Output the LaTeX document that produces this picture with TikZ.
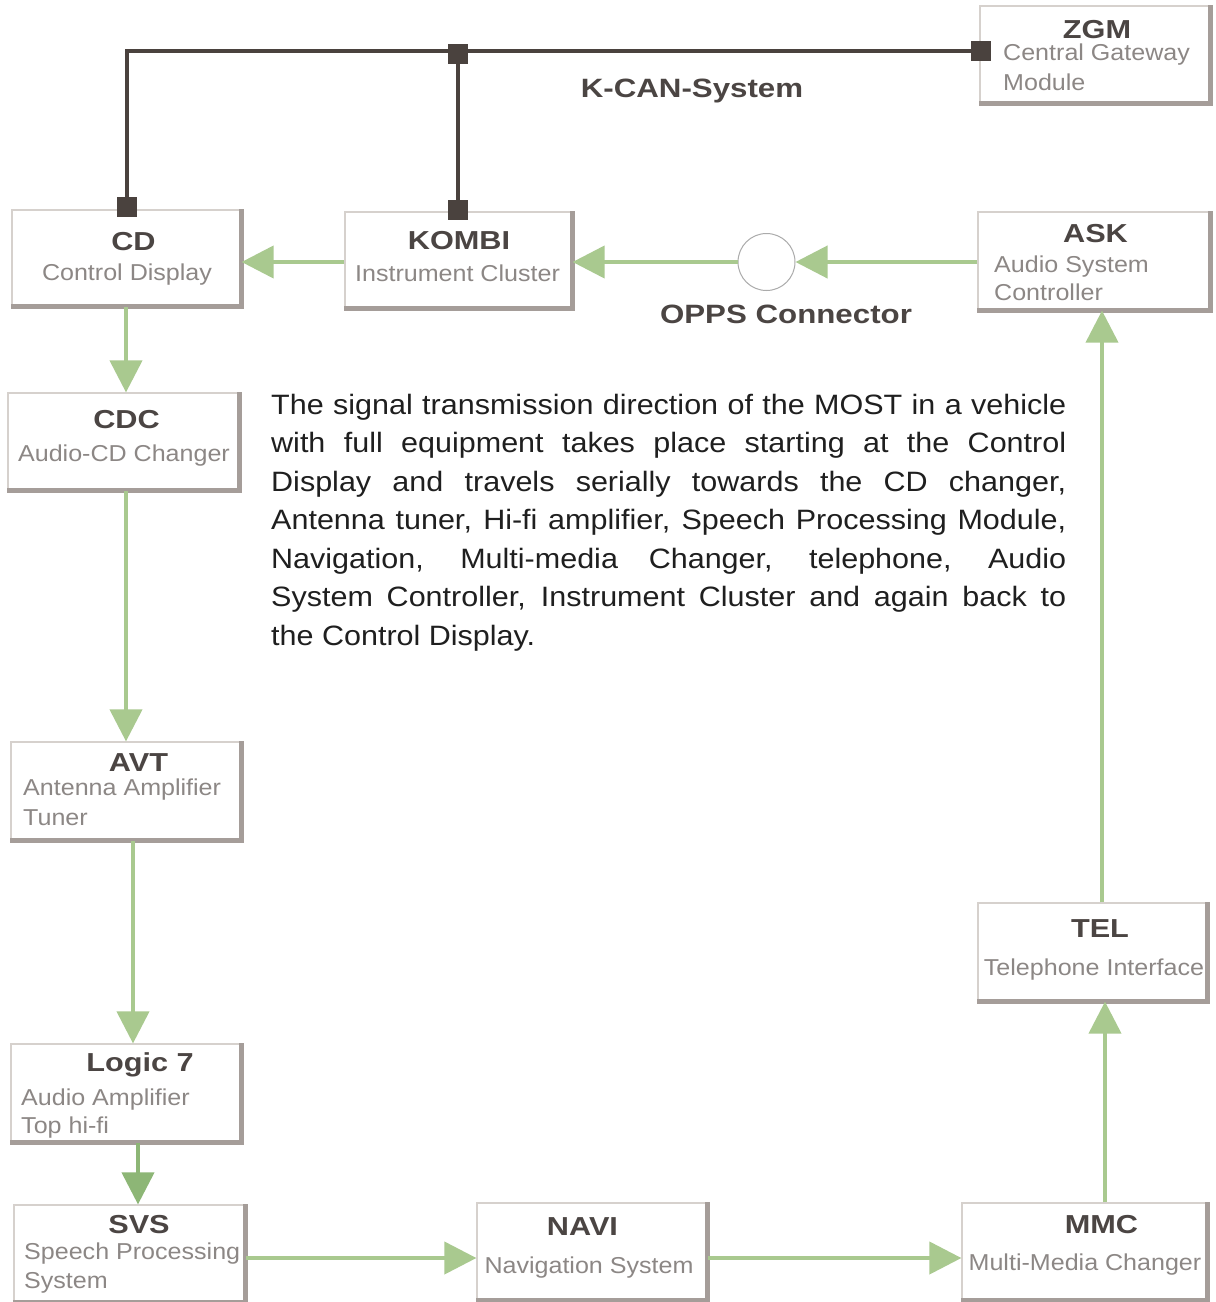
\documentclass[tikz,border=0pt]{standalone}
\usepackage{fontspec}
\setmainfont{Liberation Sans}
\newfontfamily\titlefont{Liberation Sans}[FakeStretch=1.18]
\newfontfamily\subfont{Liberation Sans}[FakeStretch=1.09]
\newfontfamily\parafont{Liberation Sans}[FakeStretch=1.09]
\usetikzlibrary{arrows.meta}

\definecolor{mostc}{HTML}{A9C98F}
\definecolor{mostdark}{HTML}{8DB676}
\definecolor{kcanc}{HTML}{4A423E}
\definecolor{boxline}{HTML}{D6D1CD}
\definecolor{boxshadow}{HTML}{A59D99}
\definecolor{titlegray}{HTML}{4B4543}
\definecolor{subgray}{HTML}{8C8785}
\definecolor{ringgray}{HTML}{ABABAB}

\begin{document}
\begin{tikzpicture}[x=1pt,y=-1pt,
  ecu/.style={draw=boxline, line width=1.2pt, fill=white, rectangle, inner sep=0pt},
  shadowline/.style={draw=boxshadow, line width=4.5pt},
  ttl/.style={font=\titlefont\bfseries\fontsize{26}{30}\selectfont, text=titlegray, inner sep=0pt},
  sub/.style={font=\subfont\fontsize{23}{30}\selectfont, text=subgray, inner sep=0pt},
  biglabel/.style={font=\titlefont\bfseries\fontsize{26.5}{30}\selectfont, text=titlegray, inner sep=0pt},
  para/.style={text width=795pt, align=justify, inner sep=0pt,
    font=\parafont\fontsize{28}{38.5}\selectfont, text=black!88},
  mostarrow/.style={draw=mostc, line width=4pt, -{Triangle[length=32pt,width=32pt]}},
  mostarrowdark/.style={draw=mostdark, line width=4pt, -{Triangle[length=32pt,width=32pt]}},
  kcanline/.style={draw=kcanc, line width=4pt},
  kcansq/.style={fill=kcanc, rectangle, inner sep=0pt, minimum size=20pt},
  ring/.style={draw=ringgray, line width=1pt, circle, fill=white, inner sep=0pt, minimum size=57pt}
]
\useasboundingbox (0,0) rectangle (1216,1302);
\fill[white] (0,0) rectangle (1216,1302);

% ---------- boxes ----------
\node[ecu, minimum width=230pt, minimum height=97pt] (zgm) at (1095,54.5) {};
\node[ecu, minimum width=229pt, minimum height=96pt] (cd) at (126.5,258) {};
\node[ecu, minimum width=227pt, minimum height=96pt] (kombi) at (458.5,260) {};
\node[ecu, minimum width=232pt, minimum height=98pt] (ask) at (1094,261) {};
\node[ecu, minimum width=231pt, minimum height=97pt] (cdc) at (123.5,441.5) {};
\node[ecu, minimum width=230pt, minimum height=98pt] (avt) at (126,791) {};
\node[ecu, minimum width=230pt, minimum height=98pt] (logic) at (126,1093) {};
\node[ecu, minimum width=231pt, minimum height=97pt] (svs) at (129.5,1253.5) {};
\node[ecu, minimum width=230pt, minimum height=97pt] (navi) at (592,1251.5) {};
\node[ecu, minimum width=245pt, minimum height=97pt] (mmc) at (1084.5,1251.5) {};
\node[ecu, minimum width=229pt, minimum height=98pt] (tel) at (1092.5,952) {};

\foreach \b in {zgm,cd,kombi,ask,cdc,avt,logic,svs,navi,mmc,tel}{
  \draw[shadowline] (\b.north east) -- (\b.south east) -- (\b.south west);
}

% ---------- K-CAN ----------
\node[kcansq] (sqcd) at (126.5,207) {};
\node[kcansq] (sqkombi) at (458,210) {};
\node[kcansq] (sqj) at (458,54) {};
\node[kcansq] (sqzgm) at (981,51) {};
\draw[kcanline] (sqcd) |- (sqzgm);
\draw[kcanline] (sqj) -- (sqkombi);
\node[biglabel, anchor=base] (kcanlbl) at (692,97) {K-CAN-System};

% ---------- OPPS ----------
\node[ring] (opps) at (766.5,262) {};
\node[biglabel, anchor=base] (oppslbl) at (786,323) {OPPS Connector};

% ---------- MOST ring arrows ----------
\coordinate (rowA) at (0,262);
\coordinate (colA) at (126,0);
\coordinate (colB) at (133,0);
\coordinate (colC) at (138,0);
\coordinate (rowB) at (0,1258);
\coordinate (colD) at (1105,0);
\coordinate (colE) at (1102,0);

\draw[mostarrow] (kombi.west |- rowA) -- (cd.east |- rowA);
\draw[mostarrow] (opps.west) -- (kombi.east |- opps.west);
\draw[mostarrow] (ask.west |- opps.east) -- (opps.east);
\draw[mostarrow] (cd.south -| colA) -- (cdc.north -| colA);
\draw[mostarrow] (cdc.south -| colA) -- (avt.north -| colA);
\draw[mostarrow] (avt.south -| colB) -- (logic.north -| colB);
\draw[mostarrowdark] (logic.south -| colC) -- (svs.north -| colC);
\draw[mostarrow] (svs.east |- rowB) -- (navi.west |- rowB);
\draw[mostarrow] (navi.east |- rowB) -- (mmc.west |- rowB);
\draw[mostarrow] (mmc.north -| colD) -- (tel.south -| colD);
\draw[mostarrow] (tel.north -| colE) -- (ask.south -| colE);

% ---------- box texts ----------
\node[ttl, anchor=base] (zgmT) at (1097,38) {ZGM};
\node[sub, anchor=base west] (zgmS1) at (1003,60) {Central Gateway};
\node[sub, anchor=base west] (zgmS2) at (1003,90) {Module};

\node[ttl, anchor=base] (cdT) at (133.5,250) {CD};
\node[sub, anchor=base] (cdS) at (127,280) {Control Display};

\node[ttl, anchor=base] (kombiT) at (459,249) {KOMBI};
\node[sub, anchor=base] (kombiS) at (457.5,281) {Instrument Cluster};

\node[ttl, anchor=base] (askT) at (1095.5,242) {ASK};
\node[sub, anchor=base west] (askS1) at (994,272) {Audio System};
\node[sub, anchor=base west] (askS2) at (994,300) {Controller};

\node[ttl, anchor=base] (cdcT) at (126.5,428) {CDC};
\node[sub, anchor=base] (cdcS) at (124,461) {Audio-CD Changer};

\node[ttl, anchor=base] (avtT) at (138.5,771) {AVT};
\node[sub, anchor=base west] (avtS1) at (23,795) {Antenna Amplifier};
\node[sub, anchor=base west] (avtS2) at (23,825) {Tuner};

\node[ttl, anchor=base] (logicT) at (140,1071) {Logic 7};
\node[sub, anchor=base west] (logicS1) at (21,1105) {Audio Amplifier};
\node[sub, anchor=base west] (logicS2) at (21,1133) {Top hi-fi};

\node[ttl, anchor=base] (svsT) at (139,1233) {SVS};
\node[sub, anchor=base west] (svsS1) at (24,1259) {Speech Processing};
\node[sub, anchor=base west] (svsS2) at (24,1288) {System};

\node[ttl, anchor=base] (naviT) at (582.5,1235) {NAVI};
\node[sub, anchor=base] (naviS) at (589,1273) {Navigation System};

\node[ttl, anchor=base] (mmcT) at (1101.5,1233) {MMC};
\node[sub, anchor=base] (mmcS) at (1085,1270) {Multi-Media Changer};

\node[ttl, anchor=base] (telT) at (1100,937) {TEL};
\node[sub, anchor=base] (telS) at (1094,975) {Telephone Interface};

% ---------- paragraph ----------
\node[para, anchor=north west] (txt) at (271,394) {\tolerance=10000\hyphenpenalty=10000
The signal transmission direction of the MOST in a vehicle\linebreak
with full equipment takes place starting at the Control\linebreak
Display and travels serially towards the CD changer,\linebreak
Antenna tuner, Hi-fi amplifier, Speech Processing Module,\linebreak
Navigation, Multi-media Changer, telephone, Audio\linebreak
System Controller, Instrument Cluster and again back to\linebreak
the Control Display.};

\end{tikzpicture}
\end{document}
